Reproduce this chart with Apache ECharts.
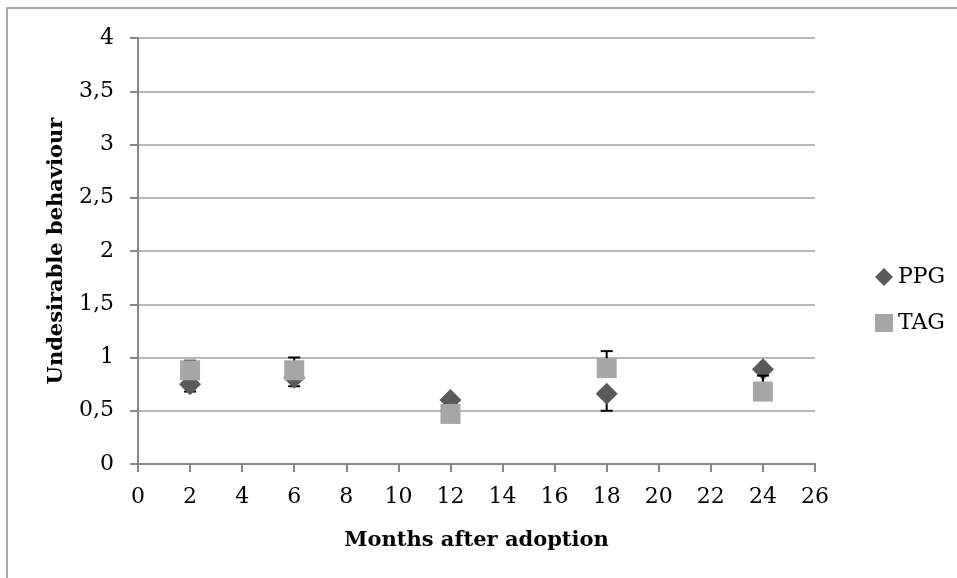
<!DOCTYPE html>
<html>
<head>
<meta charset="utf-8">
<script src="https://cdn.jsdelivr.net/npm/echarts@6/dist/echarts.min.js"></script>
<style>
html,body{margin:0;padding:0;background:#fff;}
#c{width:957px;height:578px;}
</style>
</head>
<body>
<div id="c"></div>
<script>
var months = [2, 6, 12, 18, 24];
var ppgMean = [0.75, 0.81, 0.60, 0.66, 0.89];
var ppgErrMinus = [0.07, 0.08, 0.10, 0.16, 0.20];
var tagMean = [0.88, 0.88, 0.47, 0.90, 0.68];
var tagErrPlus = [0.09, 0.12, 0.05, 0.16, 0.15];
var xTitle = 'Months after adoption';
var yTitle = 'Undesirable behaviour';

var FONT = 'DejaVu Serif';
var chart = echarts.init(document.getElementById('c'), null, {renderer: 'canvas'});

function errData(mean, minus, plus) {
  return months.map(function (m, i) {
    return [m, mean[i] - minus[i], mean[i] + plus[i]];
  });
}
var zeros = months.map(function () { return 0; });

function errRender(params, api) {
  var x = api.value(0);
  var lo = api.coord([x, api.value(1)]);
  var hi = api.coord([x, api.value(2)]);
  var cap = 6;
  var st = {stroke: '#000', lineWidth: 2};
  return {
    type: 'group',
    children: [
      {type: 'line', shape: {x1: lo[0], y1: lo[1], x2: hi[0], y2: hi[1]}, style: st},
      {type: 'line', shape: {x1: lo[0] - cap, y1: lo[1], x2: lo[0] + cap, y2: lo[1]}, style: st},
      {type: 'line', shape: {x1: hi[0] - cap, y1: hi[1], x2: hi[0] + cap, y2: hi[1]}, style: st}
    ]
  };
}

var option = {
  animation: false,
  backgroundColor: '#fff',
  graphic: [{
    type: 'rect',
    shape: {x: 7, y: 8, width: 1200, height: 1200},
    style: {fill: 'none', stroke: '#8c8c8c', lineWidth: 1.5},
    silent: true
  }],
  grid: {left: 138, right: 142, top: 38, bottom: 114},
  legend: {
    orient: 'vertical',
    left: 870,
    top: 261,
    itemWidth: 18,
    itemHeight: 18,
    itemGap: 24,
    textStyle: {fontFamily: FONT, fontSize: 22, color: '#000'},
    data: [
      {name: 'PPG', icon: 'diamond', itemStyle: {color: '#5a5a5a', opacity: 1}},
      {name: 'TAG', icon: 'rect', itemStyle: {color: '#a6a6a6', opacity: 1}}
    ]
  },
  xAxis: {
    type: 'value',
    min: 0, max: 26, interval: 2,
    name: xTitle,
    nameLocation: 'middle',
    nameGap: 66,
    nameTextStyle: {fontFamily: FONT, fontSize: 21, fontWeight: 'bold', color: '#000'},
    axisLine: {show: true, lineStyle: {color: '#868686', width: 2}},
    axisTick: {show: true, inside: false, length: 8, lineStyle: {color: '#868686', width: 2}},
    axisLabel: {fontFamily: FONT, fontSize: 22, color: '#000', margin: 22},
    splitLine: {show: false}
  },
  yAxis: {
    type: 'value',
    min: 0, max: 4, interval: 0.5,
    name: yTitle,
    nameLocation: 'middle',
    nameGap: 71,
    nameTextStyle: {fontFamily: FONT, fontSize: 21, fontWeight: 'bold', color: '#000'},
    axisLine: {show: true, lineStyle: {color: '#868686', width: 2}},
    axisTick: {show: true, inside: false, length: 8, lineStyle: {color: '#868686', width: 2}},
    axisLabel: {
      fontFamily: FONT, fontSize: 22, color: '#000', margin: 24,
      formatter: function (v) { return String(v).replace('.', ','); }
    },
    splitLine: {show: true, lineStyle: {color: '#a0a0a0', width: 1.5}}
  },
  series: [
    {
      name: 'PPG-err', type: 'custom', z: 1,
      renderItem: errRender,
      data: errData(ppgMean, ppgErrMinus, zeros),
      encode: {x: 0, y: [1, 2]},
      silent: true
    },
    {
      name: 'PPG', type: 'scatter', z: 2,
      symbol: 'diamond', symbolSize: [22, 22],
      itemStyle: {color: '#5a5a5a', opacity: 1},
      data: months.map(function (m, i) { return [m, ppgMean[i]]; })
    },
    {
      name: 'TAG-err', type: 'custom', z: 3,
      renderItem: errRender,
      data: errData(tagMean, zeros, tagErrPlus),
      encode: {x: 0, y: [1, 2]},
      silent: true
    },
    {
      name: 'TAG', type: 'scatter', z: 4,
      symbol: 'rect', symbolSize: [20, 20],
      itemStyle: {color: '#a6a6a6', opacity: 1},
      data: months.map(function (m, i) { return [m, tagMean[i]]; })
    }
  ]
};
chart.setOption(option);
</script>
</body>
</html>
